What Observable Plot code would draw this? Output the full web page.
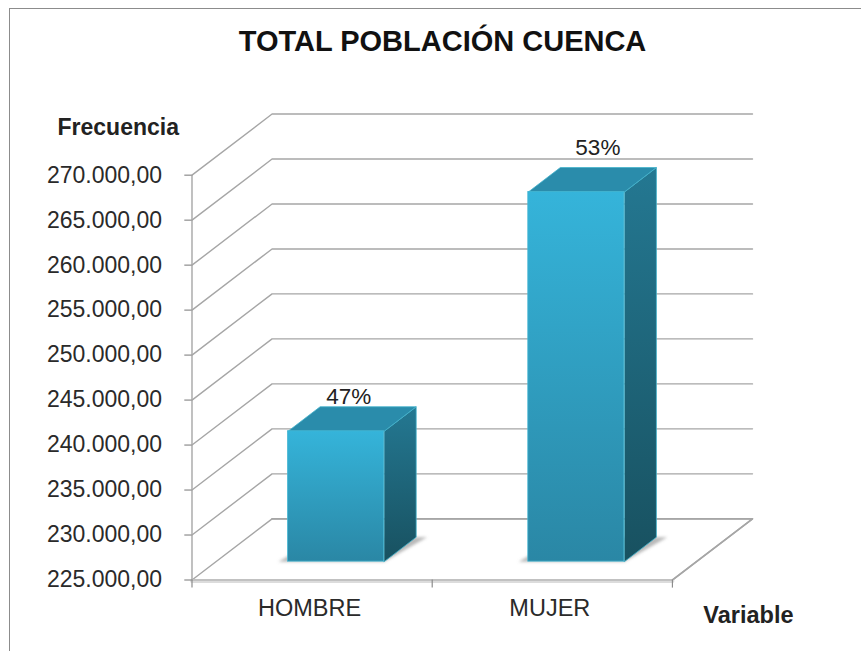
<!DOCTYPE html>
<html>
<head>
<meta charset="utf-8">
<script src="https://cdn.jsdelivr.net/npm/d3@7"></script>
<script src="https://cdn.jsdelivr.net/npm/@observablehq/plot@0.6"></script>
<style>
html,body{margin:0;padding:0;background:#fff;}
#wrap{position:relative;width:861px;height:651px;overflow:hidden;font-family:"Liberation Sans",Arial,sans-serif;}
#frame{position:absolute;left:9px;top:8px;right:-5px;bottom:-5px;border:1.5px solid #8c8c8c;}
#title{position:absolute;left:0;top:24px;width:885px;text-align:center;font-size:29px;line-height:34px;font-weight:bold;color:#111;}
svg{position:absolute;left:0;top:0;}
</style>
</head>
<body>
<div id="wrap">
<div id="frame"></div>
<div id="title">TOTAL POBLACIÓN CUENCA</div>
<div id="chart"></div>
</div>
<script>
const categories = ["HOMBRE", "MUJER"];
const values = [239497, 266088];
const shares = ["47%", "53%"];
const yTicks = [225000, 230000, 235000, 240000, 245000, 250000, 255000, 260000, 265000, 270000];
const yMin = 225000, yMax = 270000;
const depthX = 1 / 3;          // floor depth, in category units
const depthY = 6800;           // floor depth, in value units
const barZ = [0.3, 0.7];       // bar front/back position along the depth
const barW = 0.4;              // bar width in category units

const proj = (x, y, z) => ({x: x + z * depthX, y: y + z * depthY});
const fmt = (v) => d3.format(",.2f")(v).replace(/,/g, "#").replace(".", ",").replace(/#/g, ".");

const gradients = () => {
  const ns = "http://www.w3.org/2000/svg";
  const defs = document.createElementNS(ns, "defs");
  const add = (id, a, b) => {
    const g = document.createElementNS(ns, "linearGradient");
    g.setAttribute("id", id); g.setAttribute("x1", 0); g.setAttribute("y1", 0);
    g.setAttribute("x2", 0); g.setAttribute("y2", 1);
    [[0, a], [1, b]].forEach(([o, c]) => {
      const s = document.createElementNS(ns, "stop");
      s.setAttribute("offset", o); s.setAttribute("stop-color", c); g.append(s);
    });
    defs.append(g);
  };
  add("front", "#35b4da", "#2a87a5");
  add("side", "#247892", "#185160");
  const f = document.createElementNS(ns, "filter");
  f.setAttribute("id", "soft");
  f.innerHTML = '<feGaussianBlur stdDeviation="1.5"/>';
  defs.append(f);
  return defs;
};

const gridLines = yTicks.flatMap((t) => [proj(0, t, 0), proj(0, t, 1), proj(2, t, 1)].map((p) => ({...p, t})));
const floor = [proj(0, yMin, 0), proj(0, yMin, 1), proj(2, yMin, 1), proj(2, yMin, 0), proj(0, yMin, 0)];

const bars = categories.map((c, i) => {
  const x0 = i + 0.5 - barW / 2, x1 = x0 + barW;
  return {c, i, x0, x1, v: values[i], s: shares[i]};
});
const [z0, z1] = barZ;
const poly = (b, pts) => pts.map(([x, y, z]) => ({...proj(x, y, z), c: b.c}));
const topFaces = bars.flatMap((b) => poly(b, [[b.x0, b.v, z0], [b.x0, b.v, z1], [b.x1, b.v, z1], [b.x1, b.v, z0]]));
const sideFaces = bars.flatMap((b) => poly(b, [[b.x1, yMin, z0], [b.x1, yMin, z1], [b.x1, b.v, z1], [b.x1, b.v, z0]]));
const shadows = bars.flatMap((b) => poly(b, [[b.x0 - 0.04, yMin, z0], [b.x1, yMin, z0], [b.x1 + 0.045, yMin, z1], [b.x1, yMin, z1], [b.x0, yMin, z1]]));

const polygon = (pts, o) => Plot.line(pts, {x: "x", y: "y", z: "c", curve: "linear-closed", ...o});
const blurred = (index, scales, values, dims, ctx, next) => {
  const g = next(index, scales, values, dims, ctx);
  g.setAttribute("filter", "url(#soft)");
  return g;
};
const shareLabel = (i, dx, dy) => Plot.text([bars[i]], {
  x: (b) => proj((b.x0 + b.x1) / 2, b.v, z1).x,
  y: (b) => proj(b.x0, b.v, z1).y,
  text: "s", dx, dy, fontSize: 22.5, fill: "#222"
});

const chart = Plot.plot({
  width: 861,
  height: 651,
  marginLeft: 191.5,
  marginRight: 109,
  marginTop: 113.5,
  marginBottom: 71.5,
  style: {background: "transparent", fontFamily: '"Liberation Sans",Arial,sans-serif'},
  x: {domain: [0, 2 + depthX], axis: null},
  y: {domain: [yMin, yMax + depthY], axis: null},
  marks: [
    gradients,
    Plot.line(gridLines, {x: "x", y: "y", z: "t", stroke: "#a6a6a6", strokeWidth: 1.4}),
    Plot.line(floor.slice(1, 4), {x: "x", y: "y", stroke: "#a6a6a6", strokeWidth: 1.6}),
    Plot.line(floor.slice(3), {x: "x", y: "y", stroke: "#dcdcdc", strokeWidth: 4, dy: 1}),
    Plot.line([proj(0, yMin, 0), proj(0, yMax, 0)], {x: "x", y: "y", stroke: "#a6a6a6", strokeWidth: 1.4}),
    Plot.line(floor.slice(3), {x: "x", y: "y", stroke: "#a6a6a6", strokeWidth: 1.2}),
    Plot.line([proj(2, yMin, 0), proj(2, yMin, 1)], {x: "x", y: "y", stroke: "#a6a6a6", strokeWidth: 1.4}),
    Plot.ruleY(yTicks, {x1: -0.03, x2: 0, stroke: "#8c8c8c", strokeWidth: 1.2}),
    Plot.ruleX([0, 1, 2], {y1: yMin, y2: yMin - 900, stroke: "#8c8c8c", strokeWidth: 1.2}),
    polygon(shadows, {fill: "#8a8a8a", fillOpacity: 0.6, stroke: "none", render: blurred}),
    polygon(sideFaces, {fill: "url(#side)", stroke: "#43b3cc", strokeWidth: 0.8}),
    polygon(topFaces, {fill: "#2a8cab", stroke: "#43b3cc", strokeWidth: 0.8}),
    Plot.rect(bars, {
      x1: (b) => proj(b.x0, yMin, z0).x, x2: (b) => proj(b.x1, yMin, z0).x,
      y1: (b) => proj(b.x0, yMin, z0).y, y2: (b) => proj(b.x0, b.v, z0).y,
      fill: "url(#front)", stroke: "#45b6d2", strokeWidth: 0.8
    }),
    shareLabel(0, -19.5, -10),
    shareLabel(1, -10.5, -20),
    Plot.text(yTicks, {x: 0, y: (d) => d, text: fmt, textAnchor: "end", dx: -30, fontSize: 23, fill: "#2a2a2a", letterSpacing: 0.9}),
    Plot.text(bars, {x: (b) => b.i + 0.5, y: yMin, text: "c", dy: 28, dx: -2.5, fontSize: 23.5, fill: "#2a2a2a"}),
    Plot.text(["Frecuencia"], {frameAnchor: "top-left", text: (d) => d, dx: -134.5, dy: 5, fontSize: 23, fontWeight: "bold", fill: "#222"}),
    Plot.text(["Variable"], {frameAnchor: "bottom-right", text: (d) => d, dx: 41, dy: 43, fontSize: 23.5, fontWeight: "bold", fill: "#222"})
  ]
});
document.getElementById("chart").append(chart);
</script>
</body>
</html>
